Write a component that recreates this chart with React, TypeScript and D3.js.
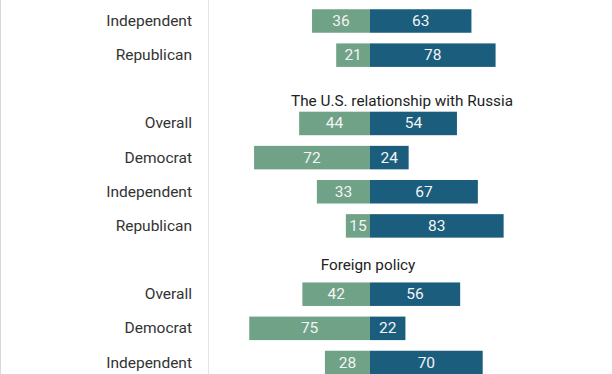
import React from "react";
import * as d3 from "d3";

// groups shown (the top group is cut off in the picture, only two rows visible)
const groupTitles = ["", "The U.S. relationship with Russia", "Foreign policy"];
const rowLabels = [
  ["Independent", "Republican"],
  ["Overall", "Democrat", "Independent", "Republican"],
  ["Overall", "Democrat", "Independent"],
];
// left side (green) and right side (blue) shares
const greenValues = [[36, 21], [44, 72, 33, 15], [42, 75, 28]];
const blueValues = [[63, 78], [54, 24, 67, 83], [56, 22, 70]];

const W = 612;
const H = 374;
const GREEN = "#6fa287";
const BLUE = "#1b5d7d";
const zeroX = 370;
const labelX = 192;
const barH = 23.5;
// title placement per group (distance above first row, centre x)
const titleDy = [0, 22, 29];
const titleX = [0, 402, 368];

function App() {
  const x = d3.scaleLinear().domain([0, 100]).range([0, 161]);
  const y = d3.scaleLinear().domain([0, 10]).range([21, 362.5]);

  // lay rows into slots, one empty slot between groups for the title
  const rows: { label: string; g: number; b: number; slot: number }[] = [];
  const titles: { text: string; slot: number; dy: number; cx: number }[] = [];
  let slot = 0;
  rowLabels.forEach((labels, gi) => {
    if (gi > 0) {
      titles.push({ text: groupTitles[gi], slot, dy: titleDy[gi], cx: titleX[gi] });
      slot += 1;
    }
    labels.forEach((label, ri) => {
      rows.push({ label, g: greenValues[gi][ri], b: blueValues[gi][ri], slot });
      slot += 1;
    });
  });

  const font = "Roboto, 'Noto Sans', sans-serif";

  return (
    <svg
      width={W}
      height={H}
      style={{ position: "absolute", left: 0, top: 0, background: "#fff" }}
      fontFamily={font}
    >
      <line x1={0.5} x2={0.5} y1={0} y2={H} stroke="#d9d9d9" />
      <line x1={208.5} x2={208.5} y1={0} y2={H} stroke="#e3e3e3" />

      {titles.map((t, i) => (
        <text
          key={"t" + i}
          x={t.cx}
          y={y(t.slot + 1) - t.dy}
          textAnchor="middle"
          dominantBaseline="central"
          fontSize={15.3}
          fill="#222"
        >
          {t.text}
        </text>
      ))}

      {rows.map((r, i) => {
        const cy = y(r.slot);
        return (
          <g key={i}>
            <text
              x={labelX}
              y={cy}
              textAnchor="end"
              dominantBaseline="central"
              fontSize={15.5}
              fill="#333"
            >
              {r.label}
            </text>
            <rect
              x={zeroX - x(r.g)}
              y={cy - barH / 2}
              width={x(r.g)}
              height={barH}
              fill={GREEN}
            />
            <rect x={zeroX} y={cy - barH / 2} width={x(r.b)} height={barH} fill={BLUE} />
            <text
              x={zeroX - x(r.g) / 2}
              y={cy}
              textAnchor="middle"
              dominantBaseline="central"
              fontSize={15.5}
              fill="#f4f4f4"
            >
              {r.g}
            </text>
            <text
              x={zeroX + x(r.b) / 2}
              y={cy}
              textAnchor="middle"
              dominantBaseline="central"
              fontSize={15.5}
              fill="#f4f4f4"
            >
              {r.b}
            </text>
          </g>
        );
      })}
    </svg>
  );
}

export default App;
